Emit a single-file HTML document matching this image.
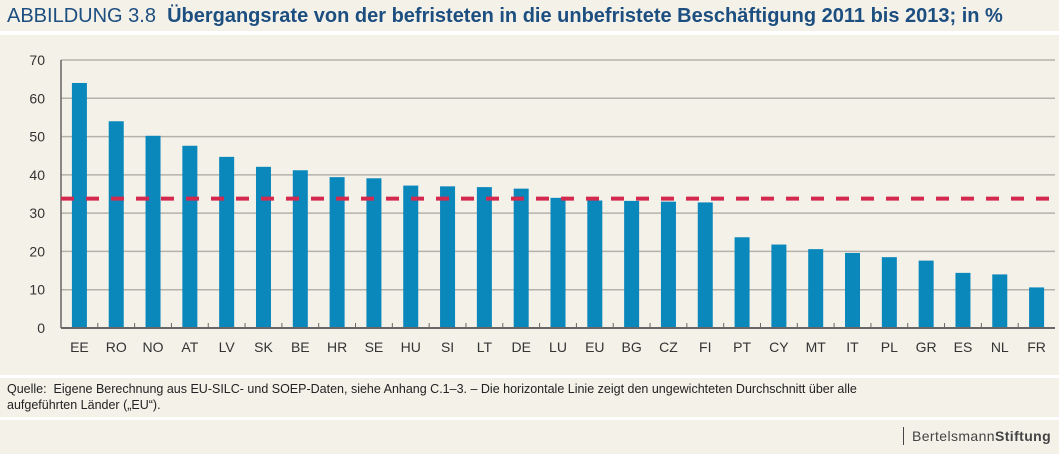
<!DOCTYPE html>
<html><head><meta charset="utf-8"><style>
body{margin:0;width:1059px;height:454px;background:#fff;font-family:"Liberation Sans",sans-serif;overflow:hidden;position:relative}
.band{position:absolute;left:0;width:1059px;background:#f4f1e9}
</style></head><body>
<div class="band" style="top:0;height:31px"></div>
<div style="position:absolute;left:7px;top:5px;font-size:20px;color:#1c4e80;white-space:nowrap;letter-spacing:0px">ABBILDUNG 3.8&nbsp; <b>Übergangsrate von der befristeten in die unbefristete Beschäftigung 2011 bis 2013; in %</b></div>
<div class="band" style="top:35px;height:340px"></div>
<div class="band" style="top:378px;height:39px"></div>
<div style="position:absolute;left:7px;top:381px;font-size:12.5px;line-height:16px;color:#222;width:920px">Quelle:&nbsp; Eigene Berechnung aus EU-SILC- und SOEP-Daten, siehe Anhang C.1–3. – Die horizontale Linie zeigt den ungewichteten Durchschnitt über alle aufgeführten Länder („EU“).</div>
<div class="band" style="top:420px;height:34px"></div>
<div style="position:absolute;left:903px;top:427px;font-size:14px;color:#444;border-left:1px solid #444;padding-left:8px;line-height:18px;letter-spacing:0.4px">Bertelsmann<b>Stiftung</b></div>
<svg id="chart" width="1059" height="454" style="position:absolute;left:0;top:0"></svg>
<script>
const categories=["EE","RO","NO","AT","LV","SK","BE","HR","SE","HU","SI","LT","DE","LU","EU","BG","CZ","FI","PT","CY","MT","IT","PL","GR","ES","NL","FR"];
const values=[64,54,50.2,47.6,44.7,42.1,41.2,39.4,39.1,37.2,37,36.8,36.4,34,33.3,33.2,33,32.8,23.7,21.8,20.6,19.6,18.5,17.6,14.4,14,10.6];
const average=[33.8];
const yTicks=[0,10,20,30,40,50,60,70];
const NS="http://www.w3.org/2000/svg";
const svg=document.getElementById('chart');
const x0=61,x1=1055,y0=328,y70=60;
const y=v=>y0-(v/70)*(y0-y70);
const step=(x1-x0)/categories.length;
const xc=i=>x0+step*(i+0.5);
function mk(t,a){const e=document.createElementNS(NS,t);for(const k in a)e.setAttribute(k,a[k]);svg.appendChild(e);return e;}
yTicks.forEach(t=>{
  if(t>0){const g=mk('line',{x1:x0,x2:x1,y1:y(t),y2:y(t),stroke:'#b5b2ab','stroke-width':1.5});
  
  }
  const l=mk('text',{x:45,y:y(t)+5,'text-anchor':'end','font-size':14,fill:'#333','font-family':'Liberation Sans, sans-serif'});
  l.textContent=t;
  
  
});
const ya=mk('line',{x1:x0,x2:x0,y1:y70,y2:y0,stroke:'#666','stroke-width':1.5});


categories.forEach((c,i)=>{
  const b=mk('rect',{x:xc(i)-7.5,y:y(values[i]),width:15,height:y0-y(values[i]),fill:'#0a87bb'});
  
  
  const l=mk('text',{x:xc(i),y:352,'text-anchor':'middle','font-size':14,fill:'#333','font-family':'Liberation Sans, sans-serif'});
  l.textContent=c;
  
  
  if(i>0){const t=mk('line',{x1:x0+step*i,x2:x0+step*i,y1:y0-5,y2:y0,stroke:'#666','stroke-width':1});
  
  }
});
const xa=mk('line',{x1:x0,x2:x1,y1:y0,y2:y0,stroke:'#666','stroke-width':2});


const av=mk('line',{x1:x0,x2:x1,y1:y(average[0]),y2:y(average[0]),stroke:'#d4294f','stroke-width':4,'stroke-dasharray':'13 12'});


</script>
</body></html>
